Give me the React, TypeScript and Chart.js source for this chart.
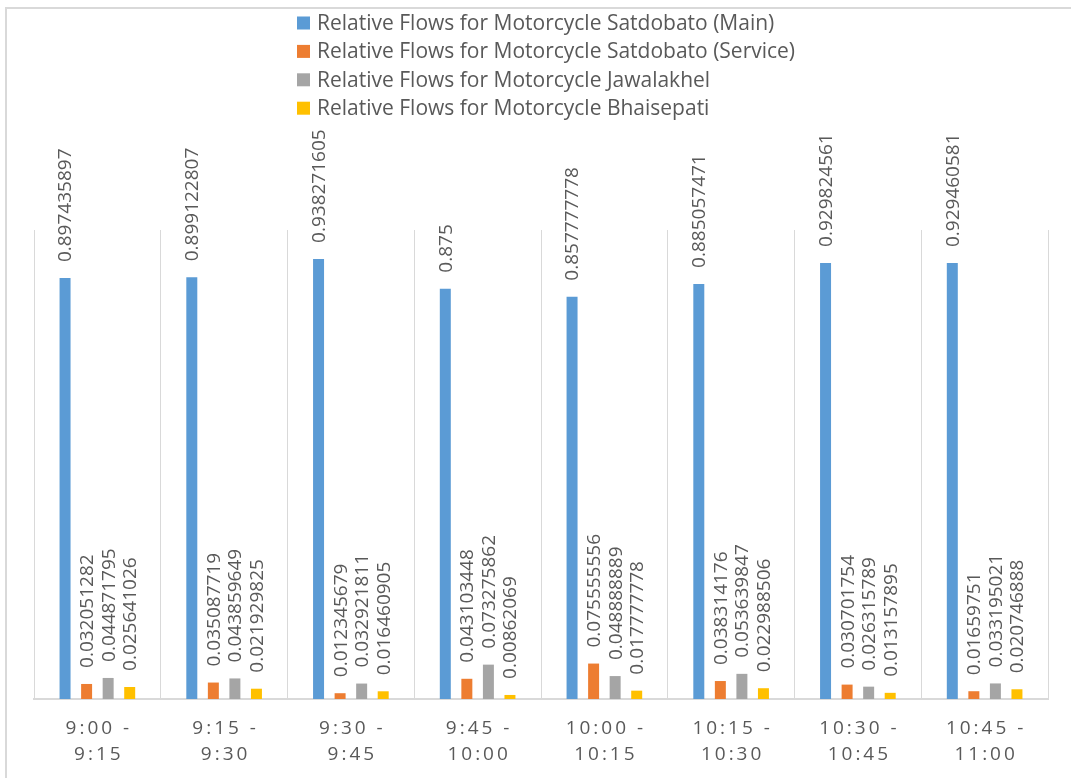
import React, { useEffect, useRef } from "react";
import { Chart, registerables } from "chart.js";

Chart.register(...registerables);

const categories = [
  "9:00 - 9:15",
  "9:15 - 9:30",
  "9:30 - 9:45",
  "9:45 - 10:00",
  "10:00 - 10:15",
  "10:15 - 10:30",
  "10:30 - 10:45",
  "10:45 - 11:00",
];

const seriesNames = [
  "Relative Flows for Motorcycle Satdobato (Main)",
  "Relative Flows for Motorcycle Satdobato (Service)",
  "Relative Flows for Motorcycle Jawalakhel",
  "Relative Flows for Motorcycle Bhaisepati",
];

const satdobatoMain = [0.897435897, 0.899122807, 0.938271605, 0.875, 0.857777778, 0.885057471, 0.929824561, 0.929460581];
const satdobatoService = [0.032051282, 0.035087719, 0.012345679, 0.043103448, 0.075555556, 0.038314176, 0.030701754, 0.01659751];
const jawalakhel = [0.044871795, 0.043859649, 0.032921811, 0.073275862, 0.048888889, 0.053639847, 0.026315789, 0.033195021];
const bhaisepati = [0.025641026, 0.021929825, 0.016460905, 0.00862069, 0.017777778, 0.022988506, 0.013157895, 0.020746888];

const colors = ["#5B9BD5", "#ED7D31", "#A5A5A5", "#FFC000"];
const TEXT = "#595959";
const FONT = "'Open Sans'";

const labelPlugin = {
  id: "customLabels",
  afterDatasetsDraw(chart: any) {
    const ctx = chart.ctx;
    chart.data.datasets.forEach((ds: any, di: number) => {
      const meta = chart.getDatasetMeta(di);
      meta.data.forEach((el: any, i: number) => {
        const v = ds.data[i];
        ctx.save();
        ctx.translate(el.x, el.y - 16);
        ctx.rotate(-Math.PI / 2);
        ctx.font = `19px ${FONT}`;
        ctx.fillStyle = TEXT;
        ctx.textAlign = "left";
        ctx.textBaseline = "middle";
        ctx.fillText(String(v), 0, 1);
        ctx.restore();
      });
    });
  },
  afterDraw(chart: any) {
    const ctx = chart.ctx;
    // legend
    chart.data.datasets.forEach((ds: any, di: number) => {
      const y = 23 + di * 28.4;
      ctx.save();
      ctx.fillStyle = ds.backgroundColor;
      ctx.fillRect(297, y - 6.5, 13, 13);
      ctx.font = `21px ${FONT}`;
      ctx.fillStyle = TEXT;
      ctx.textAlign = "left";
      ctx.textBaseline = "middle";
      ctx.fillText(ds.label, 317, y + 1);
      ctx.restore();
    });
    // x tick labels with letter spacing
    const xs = chart.scales.x;
    categories.forEach((c, i) => {
      const x = xs.getPixelForValue(i);
      const parts = c.split(" - ");
      const lines = [parts[0] + " -", parts[1]];
      ctx.save();
      ctx.font = `19px ${FONT}`;
      (ctx as any).letterSpacing = "3px";
      ctx.fillStyle = TEXT;
      ctx.textAlign = "center";
      ctx.textBaseline = "middle";
      ctx.fillText(lines[0], x + 1.5, 729);
      ctx.fillText(lines[1], x + 1.5, 755);
      ctx.restore();
    });
  },
};

export default function App() {
  const ref = useRef<HTMLCanvasElement>(null);
  useEffect(() => {
    if (!ref.current) return;
    const seriesData = [satdobatoMain, satdobatoService, jawalakhel, bhaisepati];
    const chart = new Chart(ref.current, {
      type: "bar",
      data: {
        labels: categories,
        datasets: seriesNames.map((name, i) => ({
          label: name,
          data: seriesData[i],
          backgroundColor: colors[i],
          borderWidth: 0,
          categoryPercentage: 0.68,
          barPercentage: 0.51,
        })),
      },
      options: {
        responsive: false,
        animation: false,
        devicePixelRatio: 1,
        layout: { padding: { left: 34, right: 23, top: 230, bottom: 79 } },
        plugins: {
          legend: { display: false },
          tooltip: { enabled: false },
        },
        scales: {
          x: {
            display: true,
            offset: true,
            grid: { display: true, offset: true, color: "#d9d9d9", lineWidth: 1, drawTicks: false },
            border: { display: true, color: "#d9d9d9", width: 2 },
            ticks: { display: false },
          },
          y: {
            display: false,
            min: 0,
            max: 1,
          },
        },
      },
      plugins: [labelPlugin],
    });
    return () => chart.destroy();
  }, []);
  return (
    <div style={{ position: "fixed", left: 0, top: 0, width: 1071, height: 778, overflow: "hidden", background: "#fff" }}>
      <div
        style={{
          position: "absolute",
          left: 5,
          top: 7,
          width: 1100,
          height: 800,
          borderTop: "2px solid #d9d9d9",
          borderLeft: "2px solid #d9d9d9",
        }}
      />
      <canvas ref={ref} width={1071} height={778} style={{ position: "absolute", left: 0, top: 0, width: 1071, height: 778 }} />
    </div>
  );
}
